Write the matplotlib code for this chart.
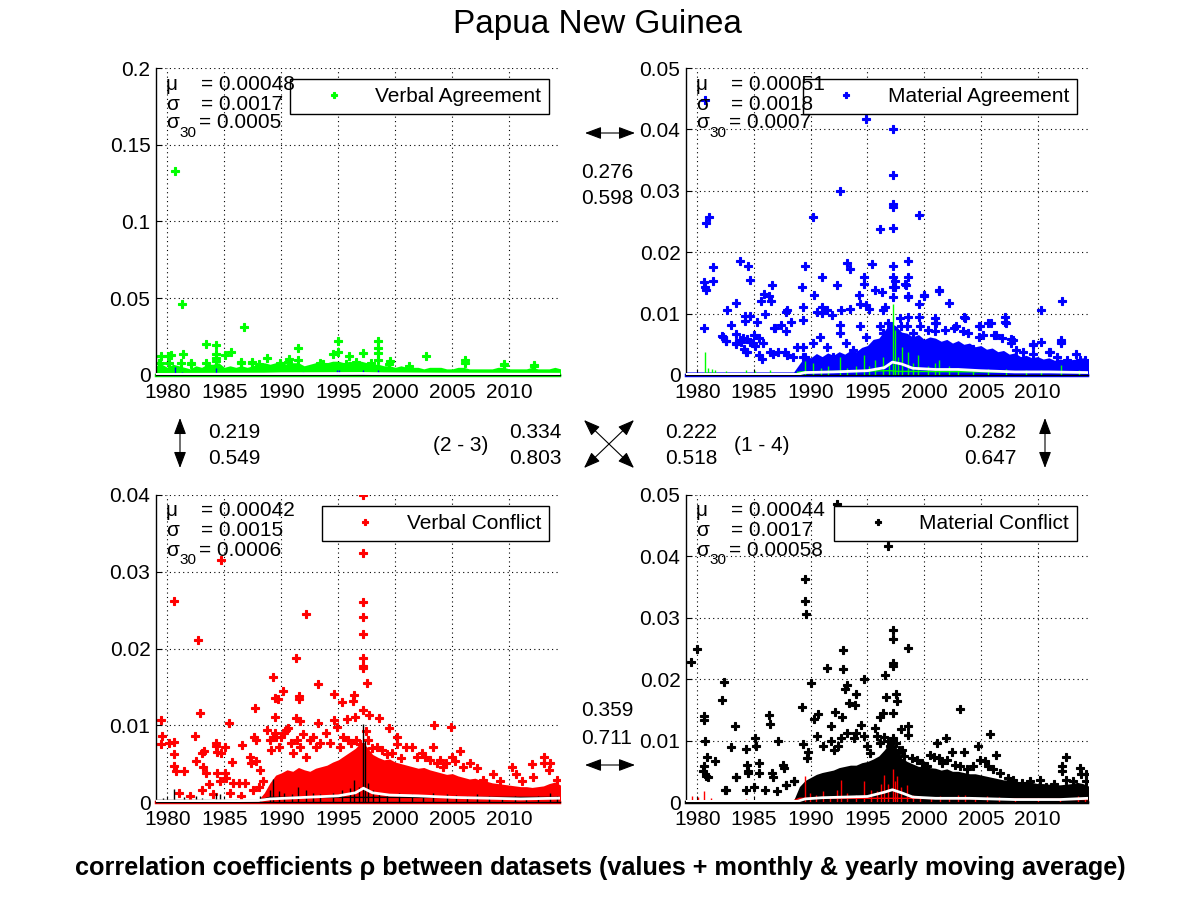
import matplotlib
matplotlib.use("Agg")
import matplotlib.pyplot as plt
from matplotlib.patches import FancyArrowPatch

plt.rcParams['font.family'] = ['Liberation Sans', 'DejaVu Sans']

W, H = 1201, 901

# half-year grid for the dense bands
band_years = [1979.0 + 0.5 * i for i in range(72)]
zero_span = [1979.0, 2014.4]

# ---------------- Verbal Agreement (green) ----------------
va_band = [.006, .007, .005, .007, .006, .005, .004, .006, .005, .007,
           .007, .008, .005, .006, .005, .006, .005, .006, .007, .008,
           .007, .008, .008, .007, .008, .008, .006, .007, .008, .008,
           .008, .009, .009, .008, .009, .008, .009, .008, .007, .007,
           .006, .006, .005, .006, .005, .005, .005, .004, .005, .005,
           .005, .004, .004, .005, .005, .004, .004, .004, .004, .004,
           .005, .005, .004, .004, .004, .004, .005, .004, .004, .004,
           .005, .004]
va_pts = [(1980.70, .133), (1981.29, .046), (1986.73, .031), (1983.39, .020),
          (1984.27, .0193), (1984.27, .014), (1984.27, .011), (1984.27, .009),
          (1985.59, .0148), (1985.06, .0128), (1981.37, .0135), (1980.30, .0128),
          (1980.05, .0122), (1979.44, .0122), (1994.99, .0219), (1994.99, .0148),
          (1994.50, .0135), (1998.50, .0219), (1998.50, .0174), (1998.50, .0141),
          (1998.50, .0096), (1991.48, .0174), (1991.50, .0096), (2002.72, .0122),
          (1999.56, .0089), (2006.15, .0096), (2009.58, .0070), (2012.13, .0063),
          (1988.75, .0109), (1990.70, .0102), (1997.19, .0141), (1995.90, .0122),
          (1979.30, .0076), (1982.10, .0076), (1986.50, .0083), (1987.43, .0083),
          (1979.38, .0075), (1980.14, .008), (1981.23, .0078), (1982.07, .007),
          (1983.42, .0075), (1986.47, .0078), (1987.43, .0078), (1988.08, .007),
          (1989.90, .008), (1990.60, .0085), (1993.35, .008), (1993.62, .0072),
          (1995.67, .0072), (1996.54, .0085), (1997.89, .0075), (1999.47, .007),
          (2001.23, .006), (2006.15, .008), (2009.58, .0065), (2012.13, .006)]
va_sp_x = [1980.64, 1981.3, 1984.3, 1989.9, 1991.9, 1994.9, 1995.1, 1997.2, 1998.5, 1999.6, 2013.5]
va_sp_y = [.005, .002, .0043, .0015, .002, .003, .003, .0035, .003, .0015, .0015]
va_base_x = [1979.0, 2014.4]
va_base_y = [.0002, .0002]
va_ma_x = [1979.0, 1988.5, 1990, 1994, 1997, 1999, 2004, 2014.4]
va_ma_y = [.0004, .0006, .0008, .0009, .001, .0008, .0006, .0005]

# ---------------- Material Agreement (blue) ----------------
ma_band = [.0005] * 20 + [
           .0018, .0030, .0028, .0035, .0030, .0036, .0032, .0038, .0034, .0040,
           .0038, .0045, .0048, .0058, .0060, .0072, .0085, .0080, .0070, .0068,
           .0062, .0066, .0058, .0062, .0060, .0055, .0058, .0052, .0056, .0050,
           .0052, .0046, .0048, .0042, .0044, .0038, .0040, .0034, .0036, .0030,
           .0032, .0028, .0030, .0026, .0028, .0024, .0026, .0024, .0025, .0026,
           .0028, .0022]
ma_pts = [(1980.70, .0448), (1994.83, .0417), (1997.23, .0401), (1997.23, .0326),
          (1997.23, .0278), (1997.23, .0274), (1997.23, .0240), (1997.23, .0178),
          (1997.23, .0160), (1997.23, .0127), (1997.23, .0143), (1992.57, .0300),
          (1990.20, .0257), (1999.51, .0260), (1996.09, .0237), (1980.79, .0247),
          (1981.05, .0257), (1981.41, .0176), (1981.41, .0153), (1980.62, .0151),
          (1980.64, .0144), (1980.73, .0138), (1980.62, .0076), (1983.78, .0185),
          (1984.45, .0178), (1984.63, .0154), (1989.49, .0178), (1989.23, .0144),
          (1989.32, .0111), (1990.96, .0160), (1990.28, .0130), (1992.34, .0146),
          (1993.21, .0182), (1993.45, .0172), (1995.38, .0180), (1994.71, .0160),
          (1994.71, .0149), (1998.55, .0186), (1998.55, .0160), (1998.55, .0127),
          (1998.37, .0147), (1996.29, .0135), (1995.65, .0139), (1999.95, .0129),
          (1999.51, .0115), (2001.27, .0138), (2002.15, .0117), (2003.56, .0093),
          (2012.14, .0120), (2010.27, .0106), (1982.58, .0106), (1982.29, .0062),
          (1982.52, .0055), (1983.40, .0118), (1982.93, .0081), (1983.37, .0051),
          (1984.16, .0088), (1984.22, .0096), (1984.63, .0096), (1985.30, .0086),
          (1985.63, .0121), (1985.89, .0132), (1986.36, .0129), (1986.59, .0147),
          (1986.48, .0120), (1985.98, .0100), (1986.89, .0076), (1987.35, .0081),
          (1987.82, .0103), (1987.82, .0072), (1988.23, .0087), (1985.01, .0065),
          (1985.45, .0061), (1983.84, .0054), (1984.13, .0043), (1984.42, .0038),
          (1990.58, .0103), (1991.02, .0111), (1991.46, .0106), (1991.84, .0098),
          (1992.63, .0106), (1993.45, .0108), (1994.27, .0131), (1994.36, .0115),
          (1994.83, .0114), (1995.12, .0108), (1996.38, .0106), (1996.58, .0111),
          (1997.84, .0093), (2000.92, .0093), (2000.98, .0085), (2004.93, .0080),
          (2005.61, .0084), (2005.87, .0084), (2007.16, .0094), (2007.22, .0085),
          (2007.86, .0057), (2009.62, .0049), (2012.11, .0054), (2011.09, .0038),
          (2013.72, .0024), (1988.76, .0046), (1989.35, .0030), (1990.20, .0052),
          (1990.80, .0062), (1991.40, .0046), (1991.98, .0030), (1992.57, .0068),
          (1993.15, .0052), (1993.74, .0041), (1994.32, .0079), (1994.91, .0062),
          (1995.50, .0046), (1996.08, .0079), (1996.38, .0068), (1989.35, .0090),
          (1991.00, .0101), (1992.57, .0081), (1987.90, .0106), (1986.80, .0077),
          (1997.40, .0153), (1997.40, .0143), (1998.34, .0148), (1998.54, .0128),
          (2001.27, .0137), (1999.95, .0130), (1998.54, .0094), (1999.51, .0094),
          (2001.06, .0084), (2003.55, .0094), (2004.87, .0080), (2007.15, .0086),
          (2006.34, .0065), (2005.16, .0065), (2006.86, .0061), (2007.65, .0058),
          (2007.65, .0052), (2008.10, .0040), (2008.73, .0038), (2009.60, .0050),
          (2009.60, .0034), (2010.29, .0053), (2011.02, .0037), (2012.10, .0052),
          (2012.10, .0057), (2011.75, .0030), (2012.63, .0024), (2013.37, .0034),
          (2014.20, .0024), (1996.80, .0084), (1998.00, .0079), (1999.00, .0068),
          (1998.50, .0080), (1999.60, .0079), (2000.33, .0073), (2001.00, .0071),
          (2001.85, .0074), (2002.67, .0076), (2002.82, .0079), (2003.40, .0071),
          (2004.30, .0043), (2003.85, .0068), (2004.87, .0062), (2006.19, .0065),
          (1983.78, .0057), (1984.07, .0060), (1984.37, .0058), (1984.66, .0054),
          (1984.95, .0052), (1985.10, .0048), (1984.31, .0038), (1985.48, .0033),
          (1985.69, .0026), (1985.83, .0052), (1986.42, .0038), (1986.65, .0035),
          (1987.15, .0038), (1987.76, .0038), (1987.88, .0033), (1988.47, .0030),
          (1989.29, .0046), (1989.49, .0030), (1982.17, .0064), (1983.43, .0066),
          (1983.43, .0052), (1982.49, .0055)]
ma_sp_x = [1980.64, 1980.9, 1981.3, 1981.6, 1982.5, 1984.3, 1985.1, 1986.4, 1988.8, 1989.5,
           1990.2, 1990.9, 1991.5, 1992.57, 1993.2, 1994.0, 1994.7, 1995.1, 1995.7, 1996.4,
           1996.9, 1997.23, 1997.4, 1997.7, 1998.05, 1998.6, 1999.0, 1999.5, 2000.3, 2001.0,
           2001.27, 2002.15, 2003.0, 2004.3, 2005.6, 2007.2, 2009.0, 2010.3, 2012.1, 2013.7]
ma_sp_y = [.0038, .0012, .0010, .0008, .0006, .0008, .0006, .0008, .0007, .0022,
           .0019, .0012, .0014, .0030, .0012, .0014, .0032, .0015, .0024, .0030,
           .0020, .0116, .0073, .0030, .0046, .0038, .0020, .0032, .0015, .0019,
           .0024, .0014, .0012, .0010, .0010, .0009, .0008, .0008, .0016, .0008]
ma_base_x = [1979.0, 1988.8, 1989.0, 1997.0, 1997.5, 2014.4]
ma_base_y = [.0002, .0002, .0005, .0007, .0006, .0004]
ma_ma_x = [1979.0, 1988.8, 1989.5, 1992, 1995, 1996.5, 1997.2, 1998, 1999, 2001, 2003, 2005, 2008, 2011, 2014.4]
ma_ma_y = [.0001, .0001, .0004, .0005, .0007, .0012, .0021, .0018, .0011, .0009, .0009, .0007, .0005, .0005, .0004]

# ---------------- Verbal Conflict (red) ----------------
vc_band = [.0003] * 19 + [
           .0012, .0025, .0035, .0038, .0042, .0040, .0045, .0042, .0040, .0044,
           .0046, .0048, .0052, .0055, .0060, .0065, .0070, .0078, .0072, .0062,
           .0058, .0055, .0056, .0052, .0050, .0048, .0046, .0044, .0045, .0042,
           .0040, .0038, .0036, .0037, .0034, .0032, .0030, .0031, .0028, .0027,
           .0025, .0024, .0023, .0022, .0021, .0020, .0020, .0019, .0020, .0021,
           .0024, .0026, .0022]
vc_pts = [(1997.18, .0400), (1997.18, .0363), (1997.18, .0324), (1997.18, .0260),
          (1997.18, .0241), (1997.18, .0219), (1997.18, .0187), (1997.18, .0177),
          (1997.18, .0175), (1997.18, .0120), (1997.53, .0155), (1997.71, .0113),
          (1984.74, .0315), (1980.59, .0262), (1982.69, .0211), (1992.17, .0245),
          (1991.30, .0187), (1989.28, .0163), (1993.23, .0154), (1990.16, .0144),
          (1989.48, .0135), (1989.72, .0134), (1991.53, .0138), (1991.53, .0134),
          (1994.63, .0141), (1995.33, .0130), (1996.30, .0131), (1996.36, .0140),
          (1982.87, .0116), (1979.44, .0107), (1985.41, .0103), (1998.58, .0109),
          (1999.46, .0096), (2003.41, .0100), (2004.88, .0098), (1987.67, .0122),
          (1989.45, .0111), (1991.27, .0109), (1991.62, .0105), (1993.23, .0103),
          (1994.60, .0107), (1995.72, .0108), (1996.45, .0111), (1979.50, .0086),
          (1979.44, .0075), (1980.15, .0077), (1980.59, .0078), (1980.59, .0063),
          (1980.59, .0047), (1980.73, .0041), (1981.46, .0041), (1982.43, .0086),
          (1982.55, .0054), (1983.01, .0064), (1983.22, .0066), (1983.16, .0046),
          (1983.37, .0038), (1983.63, .0023), (1984.30, .0077), (1984.30, .0073),
          (1984.39, .0065), (1984.74, .0064), (1985.03, .0072), (1984.36, .0038),
          (1984.59, .0027), (1985.03, .0038), (1985.18, .0031), (1985.68, .0052),
          (1985.77, .0025), (1986.29, .0025), (1986.58, .0074), (1986.85, .0025),
          (1987.23, .0059), (1987.37, .0051), (1987.81, .0054), (1987.61, .0085),
          (1987.81, .0081), (1988.11, .0042), (1988.40, .0027), (1988.75, .0094),
          (1989.04, .0081), (1989.13, .0068), (1989.28, .0085), (1989.42, .0090),
          (1989.57, .0085), (1989.80, .0072), (1990.01, .0085), (1990.21, .0090),
          (1990.45, .0094), (1990.59, .0096), (1990.83, .0077), (1991.03, .0064),
          (1991.33, .0081), (1991.62, .0072), (1991.91, .0088), (1992.20, .0059),
          (1992.50, .0081), (1992.79, .0085), (1993.08, .0072), (1993.37, .0077),
          (1993.96, .0090), (1994.25, .0077), (1994.84, .0098), (1995.13, .0072),
          (1995.42, .0085), (1995.86, .0081), (1996.15, .0077), (1996.59, .0081),
          (1996.89, .0075), (1997.47, .0092), (1997.62, .0081), (1997.91, .0070),
          (1998.35, .0072), (1998.79, .0068), (1999.23, .0062), (1999.67, .0064),
          (2000.11, .0085), (2000.11, .0075), (2000.54, .0057), (2000.98, .0072),
          (2001.42, .0072), (2001.86, .0059), (2002.30, .0064), (2002.59, .0059),
          (2003.03, .0055), (2003.32, .0072), (2003.62, .0051), (2003.91, .0055),
          (2004.20, .0046), (2004.49, .0051), (2004.93, .0059), (2005.23, .0053),
          (2005.66, .0067), (2005.96, .0046), (2006.54, .0051), (2007.13, .0044),
          (2007.71, .0029), (2008.59, .0036), (2009.18, .0027), (2010.20, .0046),
          (2010.58, .0036), (2011.08, .0027), (2012.02, .0049), (2012.10, .0033),
          (2013.04, .0059), (2013.04, .0051), (2013.57, .0051), (2013.51, .0042),
          (2014.15, .0029), (1981.0, .0012), (1982.0, .0008), (1983.0, .0015),
          (1984.0, .0010), (1985.5, .0012), (1986.5, .0008), (1987.5, .0015),
          (1988.0, .0020)]
vc_sp_x = [1979.6, 1980.6, 1981.5, 1982.5, 1983.0, 1984.3, 1984.6, 1986.0, 1988.1, 1989.0,
           1989.3, 1989.8, 1990.2, 1990.9, 1991.5, 1992.2, 1992.8, 1993.4, 1994.5, 1995.3,
           1996.0, 1996.4, 1996.8, 1997.18, 1997.35, 1997.6, 1998.0, 1998.6, 1999.3, 2000.3,
           2001.5, 2002.4, 2003.3, 2004.5, 2005.3, 2006.3, 2007.2, 2008.2, 2009.4, 2010.5,
           2011.5, 2012.5, 2013.6, 2014.2]
vc_sp_y = [.0005, .0017, .0006, .0008, .0005, .0012, .0010, .0004, .0008, .0015,
           .0030, .0014, .0012, .0010, .0020, .0015, .0012, .0010, .0012, .0015,
           .0018, .0029, .0020, .0102, .0080, .0025, .0015, .0012, .0010, .0012,
           .0010, .0008, .0012, .0010, .0009, .0008, .0010, .0008, .0007, .0008,
           .0007, .0008, .0012, .0008]
vc_base_x = [1979.0, 1988.0, 1989.0, 2014.4]
vc_base_y = [.0002, .0002, .0006, .0006]
vc_ma_x = [1979.0, 1988, 1989, 1992, 1995, 1996.5, 1997.2, 1998, 1999.5, 2002, 2005, 2008, 2011, 2014.4]
vc_ma_y = [.0001, .0002, .0004, .0006, .0008, .0012, .0018, .0012, .0009, .0008, .0006, .0005, .0004, .0005]

# ---------------- Material Conflict (black) ----------------
mc_band = [.0003] * 20 + [
           .0025, .0035, .0040, .0045, .0048, .0050, .0052, .0056, .0058, .0060,
           .0060, .0064, .0066, .0070, .0075, .0085, .0098, .0090, .0072, .0066,
           .0062, .0058, .0058, .0056, .0055, .0052, .0054, .0050, .0050, .0048,
           .0046, .0046, .0044, .0042, .0040, .0038, .0036, .0036, .0034, .0033,
           .0033, .0032, .0030, .0030, .0029, .0028, .0028, .0029, .0030, .0032,
           .0030, .0026]
mc_pts = [(1992.31, .0485), (1996.79, .0417), (1989.49, .0364), (1989.49, .0327),
          (1989.58, .0306), (1997.23, .0280), (1997.23, .0266), (1997.23, .0227),
          (1997.23, .0221), (1998.55, .0251), (1992.83, .0247), (1992.83, .0216),
          (1979.47, .0228), (1980.00, .0249), (1991.40, .0218), (1994.68, .0200),
          (1996.52, .0207), (1989.99, .0193), (1993.16, .0191), (1993.01, .0184),
          (1982.34, .0195), (1982.20, .0166), (1996.61, .0171), (1997.61, .0165),
          (1997.55, .0176), (1994.01, .0176), (1993.36, .0161), (1993.86, .0158),
          (1989.23, .0155), (2003.12, .0151), (1986.33, .0142), (1986.42, .0127),
          (1980.62, .0140), (1980.62, .0134), (1980.70, .0099), (1992.13, .0146),
          (1990.64, .0144), (1990.28, .0135), (1992.80, .0138), (1991.75, .0123),
          (1983.31, .0124), (1997.23, .0145), (1996.09, .0138), (1996.38, .0145),
          (1998.55, .0124), (1997.96, .0119), (1998.55, .0109), (2005.81, .0111),
          (2001.89, .0104), (2004.73, .0092), (2001.13, .0096), (2006.34, .0076),
          (2012.55, .0073), (1985.10, .0105), (1985.19, .0091), (1984.31, .0087),
          (1982.93, .0090), (1987.09, .0100), (1981.58, .0066), (1980.85, .0073),
          (1980.50, .0051), (1980.62, .0058), (1980.79, .0043), (1980.94, .0040),
          (1983.37, .0040), (1984.39, .0060), (1984.45, .0050), (1984.51, .0047),
          (1985.45, .0063), (1985.45, .0047), (1986.62, .0047), (1986.71, .0040),
          (1987.59, .0061), (1987.65, .0055), (1987.85, .0028), (1988.53, .0034),
          (1982.46, .0019), (1989.32, .0094), (1989.76, .0082), (1989.70, .0072),
          (1990.58, .0108), (1991.10, .0091), (1991.75, .0099), (1992.04, .0085),
          (1992.39, .0091), (1992.63, .0104), (1993.16, .0112), (1993.80, .0104),
          (1994.03, .0112), (1994.44, .0126), (1994.68, .0107), (1994.97, .0091),
          (1995.21, .0080), (1995.68, .0120), (1995.85, .0107), (1996.09, .0096),
          (1996.44, .0106), (1996.79, .0099), (1997.02, .0091), (1997.26, .0104),
          (1997.55, .0096), (1997.76, .0085), (1998.05, .0084), (1998.25, .0075),
          (1998.93, .0072), (1999.37, .0069), (1999.81, .0063), (2000.25, .0058),
          (2000.54, .0077), (2000.89, .0074), (2001.27, .0071), (2001.56, .0063),
          (2002.00, .0069), (2002.44, .0082), (2002.74, .0061), (2003.18, .0058),
          (2003.53, .0082), (2003.76, .0053), (2004.35, .0058), (2004.93, .0069),
          (2005.37, .0066), (2005.67, .0059), (2006.11, .0053), (2006.69, .0047),
          (2007.42, .0039), (2007.86, .0036), (2008.60, .0031), (2009.33, .0034),
          (2010.21, .0036), (2010.79, .0025), (2011.44, .0030), (2012.14, .0059),
          (2012.14, .0050), (2012.55, .0036), (2013.14, .0035), (2013.72, .0055),
          (2013.87, .0046), (2014.25, .0046), (2014.25, .0034), (1982.5, .0019),
          (1983.4, .0040), (1984.3, .0020), (1985.0, .0025), (1986.0, .0020),
          (1987.0, .0018), (1987.8, .0028), (1988.5, .0034)]
mc_sp_x = [1979.5, 1980.1, 1980.6, 1981.2, 1982.3, 1984.3, 1986.5, 1989.5, 1989.9, 1990.5,
           1991.1, 1991.7, 1992.3, 1992.7, 1993.2, 1994.0, 1994.7, 1995.3, 1995.8, 1996.2,
           1996.5, 1996.8, 1997.23, 1997.4, 1997.6, 1998.0, 1998.5, 1999.0, 1999.6, 2000.6,
           2001.4, 2002.2, 2003.0, 2003.6, 2004.5, 2005.5, 2006.6, 2008.0, 2010.0, 2012.0,
           2013.6, 2014.2]
mc_sp_y = [.0010, .0008, .0018, .0006, .0004, .0005, .0004, .0042, .0015, .0012,
           .0018, .0010, .0020, .0036, .0015, .0012, .0034, .0020, .0018, .0030,
           .0044, .0030, .0054, .0035, .0042, .0025, .0028, .0012, .0010, .0008,
           .0010, .0008, .0012, .0012, .0008, .0010, .0008, .0006, .0006, .0006,
           .0010, .0008]
mc_base_x = [1979.0, 1988.5, 1989.0, 1999.0, 2014.4]
mc_base_y = [.0002, .0002, .0006, .0006, .0004]
mc_ma_x = [1979.0, 1988.8, 1989.5, 1991, 1993, 1995, 1996.5, 1997.2, 1998, 1999, 2001, 2004, 2008, 2012, 2014.4]
mc_ma_y = [.0001, .0001, .0005, .0007, .0008, .0009, .0016, .0020, .0015, .0008, .0006, .0006, .0004, .0004, .0006]

# summary statistics and correlations
stats_va = ['0.00048', '0.0017', '0.0005']
stats_ma = ['0.00051', '0.0018', '0.0007']
stats_vc = ['0.00042', '0.0015', '0.0006']
stats_mc = ['0.00044', '0.0017', '0.00058']
corr_12 = ['0.276', '0.598']
corr_13 = ['0.219', '0.549']
corr_23 = ['0.334', '0.803']
corr_14 = ['0.222', '0.518']
corr_24 = ['0.282', '0.647']
corr_34 = ['0.359', '0.711']

year_ticks = [1980, 1985, 1990, 1995, 2000, 2005, 2010]
FS = 15

fig = plt.figure(figsize=(W / 100, H / 100), dpi=100)


def px_axes(l, t, r, b):
    return fig.add_axes([l / W, 1 - b / H, (r - l) / W, (b - t) / H])


def panel(ax, band, pts, sp_x, sp_y, base_x, base_y, ma_x, ma_y, col, other,
          yticks, ylabels, label, stats):
    px = [p[0] for p in pts]
    py = [p[1] for p in pts]
    ax.fill_between(band_years, 0, band, color=col, lw=0, zorder=2)
    ax.plot(zero_span, [0, 0], color=col, lw=2.5, zorder=2, clip_on=False)
    ax.plot(px, py, 'P', color=col, ms=5.5, mew=0.8, mec=col, zorder=2, label=label)
    ax.vlines(sp_x, 0, sp_y, color=other, lw=1, zorder=3)
    ax.plot(base_x, base_y, color=other, lw=1, zorder=3)
    ax.plot(ma_x, ma_y, color='white', lw=2, zorder=4)

    ax.set_xlim(1979.0, 2014.45)
    ax.set_ylim(0, yticks[-1])
    ax.set_xticks(year_ticks)
    ax.set_xticklabels([str(y) for y in year_ticks])
    ax.set_yticks(yticks)
    ax.set_yticklabels(ylabels)
    ax.tick_params(direction='in', length=4, width=0.8, labelsize=FS, colors='k')
    ax.tick_params(axis='x', pad=6)
    ax.tick_params(axis='y', pad=4)
    for s in ['top', 'right']:
        ax.spines[s].set_visible(False)
    for s in ['left', 'bottom']:
        ax.spines[s].set_linewidth(1)
    ax.set_axisbelow(True)
    ax.grid(True, color='k', linestyle=(0, (1, 3)), lw=0.8)

    leg = ax.legend(loc='upper right', bbox_to_anchor=(0.973, 0.964), borderaxespad=0,
                    fontsize=FS, fancybox=False, edgecolor='k', framealpha=1,
                    borderpad=0.38, handlelength=3.4, handletextpad=0.3, markerscale=0.8)
    leg.get_frame().set_linewidth(1)

    wpx = ax.get_position().width * W
    hpx = ax.get_position().height * H
    x0, x1 = 10 / wpx, 45 / wpx
    ys = [1 - 16 / hpx, 1 - 36 / hpx, 1 - 55 / hpx]
    kw = dict(transform=ax.transAxes, va='center', ha='left', fontsize=FS, zorder=6)
    ax.text(x0, ys[0], 'μ', **kw)
    ax.text(x1, ys[0], '= ' + stats[0], **kw)
    ax.text(x0, ys[1], 'σ', **kw)
    ax.text(x1, ys[1], '= ' + stats[1], **kw)
    ax.text(x0, ys[2], 'σ', **kw)
    ax.text(x0 + 13 / wpx, ys[2] - 10 / hpx, '30', transform=ax.transAxes, va='center',
            ha='left', fontsize=11, zorder=6)
    ax.text(x1 - 2 / wpx, ys[2], '= ' + stats[2], **kw)


ax1 = px_axes(156, 68, 560, 375)
ax2 = px_axes(686, 68, 1088, 375)
ax3 = px_axes(156, 495, 560, 802)
ax4 = px_axes(686, 495, 1088, 802)

panel(ax1, va_band, va_pts, va_sp_x, va_sp_y, va_base_x, va_base_y, va_ma_x, va_ma_y,
      (0, 1, 0), (0, 0, 1), [0, 0.05, 0.1, 0.15, 0.2], ['0', '0.05', '0.1', '0.15', '0.2'],
      'Verbal Agreement', stats_va)
panel(ax2, ma_band, ma_pts, ma_sp_x, ma_sp_y, ma_base_x, ma_base_y, ma_ma_x, ma_ma_y,
      (0, 0, 1), (0, 1, 0), [0, 0.01, 0.02, 0.03, 0.04, 0.05],
      ['0', '0.01', '0.02', '0.03', '0.04', '0.05'], 'Material Agreement', stats_ma)
panel(ax3, vc_band, vc_pts, vc_sp_x, vc_sp_y, vc_base_x, vc_base_y, vc_ma_x, vc_ma_y,
      (1, 0, 0), (0, 0, 0), [0, 0.01, 0.02, 0.03, 0.04], ['0', '0.01', '0.02', '0.03', '0.04'],
      'Verbal Conflict', stats_vc)
panel(ax4, mc_band, mc_pts, mc_sp_x, mc_sp_y, mc_base_x, mc_base_y, mc_ma_x, mc_ma_y,
      (0, 0, 0), (1, 0, 0), [0, 0.01, 0.02, 0.03, 0.04, 0.05],
      ['0', '0.01', '0.02', '0.03', '0.04', '0.05'], 'Material Conflict', stats_mc)

fig.text(597 / W, 1 - 25 / H, 'Papua New Guinea', ha='center', va='center', fontsize=24)
fig.text(600 / W, 1 - 868 / H,
         'correlation coefficients ρ between datasets (values + monthly & yearly moving average)',
         ha='center', va='center', fontsize=18.2, fontweight='bold')


def ftext(x, y, s):
    fig.text(x / W, 1 - y / H, s, ha='center', va='center', fontsize=FS)


def arrow(x0, y0, x1, y1):
    a = FancyArrowPatch((x0 / W, 1 - y0 / H), (x1 / W, 1 - y1 / H), transform=fig.transFigure,
                        arrowstyle='<|-|>,head_length=0.8,head_width=0.3', mutation_scale=12.5,
                        color='k', lw=0.8, shrinkA=0, shrinkB=0)
    fig.add_artist(a)


# correlation labels between the panels
ftext(607, 172, corr_12[0]); ftext(607, 198, corr_12[1])
ftext(234, 433, corr_13[0]); ftext(234, 459, corr_13[1])
ftext(461, 446, '(2 - 3)')
ftext(535, 433, corr_23[0]); ftext(535, 459, corr_23[1])
ftext(691, 433, corr_14[0]); ftext(691, 459, corr_14[1])
ftext(762, 446, '(1 - 4)')
ftext(990, 433, corr_24[0]); ftext(990, 459, corr_24[1])
ftext(607, 711, corr_34[0]); ftext(607, 738, corr_34[1])

arrow(585, 133, 635, 133)
arrow(585, 765, 635, 765)
arrow(180, 418, 180, 468)
arrow(1045, 418, 1045, 468)
arrow(584, 420, 634, 468)
arrow(634, 420, 584, 468)

fig.savefig('out.png', dpi=100)
